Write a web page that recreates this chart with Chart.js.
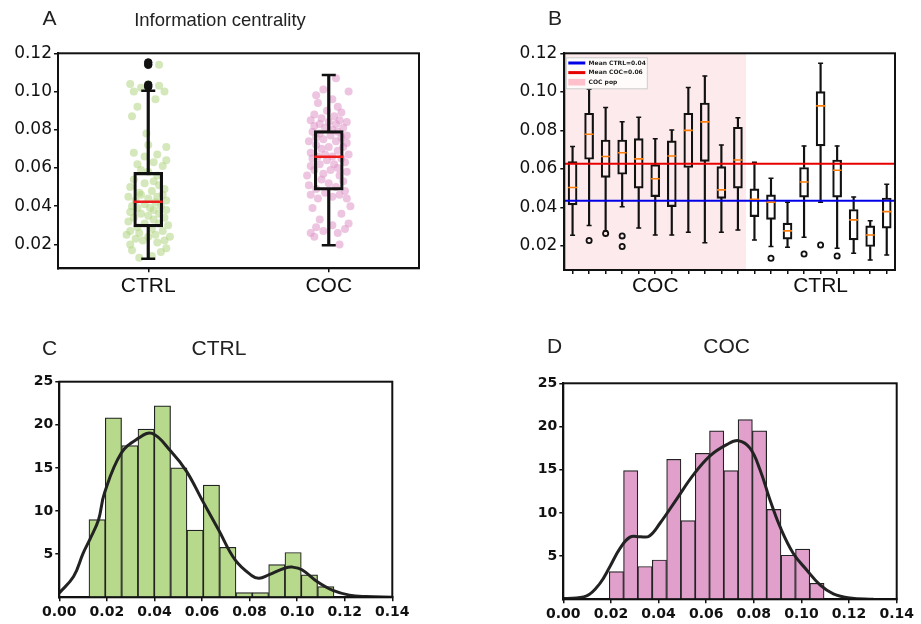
<!DOCTYPE html>
<html>
<head>
<meta charset="utf-8">
<script src="https://cdn.jsdelivr.net/npm/chart.js@4.4.0/dist/chart.umd.min.js"></script>
<style>
  html, body { margin: 0; padding: 0; background: #fff; }
  #wrap { position: relative; width: 921px; height: 624px; overflow: hidden; }
  canvas { position: absolute; }
</style>
</head>
<body>
<div id="wrap">
  <canvas id="chartA" width="460" height="300" style="left:0;top:0"></canvas>
  <canvas id="chartB" width="461" height="300" style="left:460px;top:0"></canvas>
  <canvas id="chartC" width="460" height="324" style="left:0;top:300px"></canvas>
  <canvas id="chartD" width="461" height="324" style="left:460px;top:300px"></canvas>
</div>
<script>
// ---- Panel A : information centrality per group ----
const groupsA = ['CTRL', 'COC'];
const aLow  = [0.0125, 0.0196];
const aQ1   = [0.0292, 0.0484];
const aMed  = [0.0423, 0.0659];
const aQ3   = [0.0577, 0.0795];
const aHigh = [0.1004, 0.1086];
const aOutliers = [[1, 0.1025], [1, 0.1035], [1, 0.1140], [1, 0.1152]];
const aTicks = [0.02, 0.04, 0.06, 0.08, 0.10, 0.12];

// jittered samples [offset, value]
const ctrlJitter = [
  [-0.05,0.013],[0.02,0.014],[0.07,0.016],[-0.09,0.017],[0.10,0.018],
  [-0.10,0.020],[0.05,0.021],[-0.03,0.022],[0.09,0.022],[-0.07,0.023],[0.12,0.024],[0.00,0.024],[-0.12,0.025],[0.04,0.025],[-0.05,0.026],
  [0.08,0.027],[-0.10,0.027],[0.02,0.028],[-0.06,0.029],[0.11,0.030],[-0.02,0.031],[0.06,0.031],[-0.11,0.032],[0.03,0.033],
  [-0.08,0.034],[0.09,0.034],[0.00,0.035],[-0.04,0.036],[0.06,0.036],[-0.10,0.037],[0.03,0.038],[0.10,0.038],[-0.06,0.039],[0.01,0.039],
  [-0.09,0.040],[0.07,0.040],[-0.02,0.041],[0.04,0.042],[-0.07,0.043],[0.10,0.043],[0.00,0.044],[-0.11,0.045],[0.05,0.045],[-0.04,0.046],[0.08,0.046],
  [-0.05,0.047],[0.02,0.048],[0.09,0.049],[-0.10,0.050],[0.06,0.051],[-0.02,0.052],[0.03,0.053],
  [-0.08,0.054],[0.05,0.056],[0.00,0.058],[-0.04,0.059],
  [0.08,0.061],[-0.06,0.062],[0.03,0.063],[0.10,0.064],[-0.02,0.066],[0.05,0.067],
  [-0.08,0.068],[0.10,0.071],[0.00,0.072],[-0.01,0.078],[-0.09,0.087],
  [-0.06,0.092],[0.04,0.096],
  [-0.08,0.100],[0.09,0.100],[-0.04,0.102],[0.06,0.103],[-0.10,0.104],[0.00,0.104],[0.06,0.114]
];
const cocJitter = [
  [0.06,0.020],[-0.08,0.024],
  [-0.10,0.026],[0.05,0.026],[-0.03,0.027],[0.09,0.028],[-0.07,0.029],[0.02,0.030],[0.11,0.031],
  [-0.05,0.033],[0.07,0.036],[-0.09,0.039],[0.12,0.040],
  [0.10,0.044],[-0.06,0.044],[0.02,0.045],[-0.10,0.046],[0.06,0.046],[-0.02,0.047],[0.09,0.048],[-0.07,0.049],
  [0.04,0.050],[-0.11,0.051],[0.00,0.052],[0.08,0.053],[-0.04,0.054],
  [-0.12,0.056],[0.06,0.056],[-0.03,0.057],[0.10,0.058],[0.01,0.059],[-0.08,0.059],[0.05,0.060],[-0.10,0.061],
  [0.03,0.062],[-0.05,0.062],[0.09,0.063],[-0.01,0.064],[0.07,0.065],[-0.09,0.065],[0.02,0.066],[-0.06,0.066],[0.11,0.067],[-0.02,0.067],
  [-0.10,0.068],[0.05,0.069],[-0.04,0.070],[0.08,0.071],[0.00,0.071],[-0.07,0.072],[0.10,0.073],
  [-0.11,0.074],[0.04,0.074],[-0.03,0.075],[0.07,0.076],[-0.07,0.076],[0.01,0.077],[0.10,0.077],[-0.05,0.078],[0.05,0.079],[-0.09,0.079],
  [0.02,0.080],[-0.02,0.081],[0.08,0.081],[-0.08,0.082],[0.04,0.083],[-0.05,0.083],[0.10,0.084],[0.00,0.084],[-0.10,0.085],[0.06,0.085],
  [-0.04,0.086],[0.03,0.087],[-0.08,0.088],[0.07,0.089],[-0.01,0.090],
  [0.05,0.092],[-0.06,0.094],[0.02,0.096],
  [-0.07,0.098],[0.11,0.100],[-0.03,0.101],[0.04,0.107]
];

// ---- Panel B : per-animal boxes (11 COC, 9 CTRL) ----
const bTickLabels = ['', '', '', '', '', 'COC', '', '', '', '', '', '', '', '', '', 'CTRL', '', '', '', ''];
const bLow  = [0.0255,0.0306,0.0278,0.0404,0.0293,0.0257,0.0257,0.0271,0.0217,0.0271,0.0283, 0.0231,0.0197,0.0193,0.0245,0.0427,0.0188,0.0162,0.0127,0.0153];
const bQ1   = [0.0413,0.0650,0.0556,0.0572,0.0500,0.0456,0.0404,0.0607,0.0639,0.0447,0.0500, 0.0352,0.0338,0.0235,0.0453,0.0719,0.0453,0.0231,0.0197,0.0292];
const bMed  = [0.0503,0.0780,0.0664,0.0684,0.0652,0.0549,0.0667,0.0800,0.0844,0.0491,0.0646, 0.0442,0.0427,0.0278,0.0532,0.0927,0.0593,0.0335,0.0257,0.0378];
const bQ3   = [0.0638,0.0889,0.0750,0.0750,0.0757,0.0622,0.0745,0.0889,0.0942,0.0612,0.0816, 0.0496,0.0465,0.0318,0.0607,0.1001,0.0646,0.0389,0.0304,0.0449];
const bHigh = [0.0716,0.1013,0.0918,0.0844,0.0868,0.0757,0.0802,0.1022,0.1082,0.0724,0.0866, 0.0634,0.0551,0.0427,0.0719,0.1148,0.0719,0.0454,0.0331,0.0520];
const bOutliers = [[2,0.0228],[3,0.0265],[4,0.0252],[4,0.0197],[13,0.0136],[15,0.0158],[16,0.0205],[17,0.0148]];
const meanCtrl = 0.0434;
const meanCoc = 0.0627;
const cocPop = [0.5, 11.5];
const bLegend = ['Mean CTRL=0.04', 'Mean COC=0.06', 'COC pop'];

// ---- Panel C : CTRL histogram + kde ----
const ctrlEdges = [0.0125,0.0193,0.0262,0.0331,0.0399,0.0468,0.0537,0.0605,0.0674,0.0743,0.0811,0.0880,0.0949,0.1017,0.1086,0.1155];
const ctrlHeights = [9.0,20.8,17.6,19.5,22.2,15.0,7.8,13.0,5.8,0.55,0.55,3.8,5.2,2.6,1.25];
const ctrlKdeX = [0,0.006,0.010,0.013,0.0165,0.019,0.026,0.033,0.039,0.047,0.0535,0.060,0.067,0.074,0.081,0.084,0.088,0.095,0.098,0.102,0.1085,0.115,0.122,0.129,0.14];
const ctrlKdeY = [0.5,2.4,5.1,6.8,9.0,12.1,16.7,18.4,19.0,16.9,14.6,11.3,7.8,4.3,2.5,2.2,2.6,3.4,3.5,3.2,1.8,0.8,0.25,0.08,0.0];

// ---- Panel D : COC histogram + kde ----
const cocEdges = [0.0193,0.0253,0.0313,0.0373,0.0434,0.0494,0.0554,0.0614,0.0674,0.0734,0.0794,0.0854,0.0914,0.0975,0.1035,0.1095];
const cocHeights = [3.2,14.9,3.8,4.55,16.2,9.1,16.9,19.5,14.9,20.8,19.5,10.4,5.1,5.8,1.85];
const cocKdeX = [0,0.0098,0.0154,0.0196,0.0238,0.028,0.0322,0.036,0.0406,0.0476,0.0546,0.0616,0.0686,0.0735,0.0784,0.0826,0.0868,0.091,0.0966,0.1022,0.1078,0.1134,0.1204,0.1302];
const cocKdeY = [0.08,0.39,1.85,3.8,5.9,7.2,7.25,7.3,8.8,11.6,14.4,16.6,17.9,18.36,17.5,15.0,11.5,8.4,5.3,3.4,1.66,0.62,0.15,0.0];

const histXTicks = [0, 0.02, 0.04, 0.06, 0.08, 0.10, 0.12, 0.14];
const histYTicks = [5, 10, 15, 20, 25];

// ---------------------------------------------------------------
const INK = '#111';

function axis(opts) {
  return {
    type: 'linear', min: opts.min, max: opts.max, bounds: 'data', offset: false,
    afterBuildTicks: s => { s.ticks = opts.ticks.map(v => ({ value: v })); },
    afterFit: s => { if (opts.width != null) s.width = opts.width; if (opts.height != null) s.height = opts.height; },
    ticks: { font: opts.font, color: INK, padding: opts.pad, autoSkip: false, maxRotation: 0, minRotation: 0, callback: opts.fmt },
    grid: { drawOnChartArea: false, drawTicks: true, tickLength: 4, color: INK, lineWidth: 1.5, offset: false },
    border: { display: true, color: INK, width: 2 }
  };
}

function boxDatasets(pos, low, q1, med, q3, high, st) {
  const pt = arr => arr.map((v, i) => ({ x: pos[i], y: v }));
  return [
    { type: 'scatter', data: pt(med), pointStyle: 'line', pointRadius: st.medR, pointBorderWidth: st.medW,
      pointBorderColor: st.medColor, borderColor: st.medColor, order: 2 },
    { type: 'scatter', data: pt(low).concat(pt(high)), pointStyle: 'line', pointRadius: st.capR, pointBorderWidth: st.lw,
      pointBorderColor: INK, borderColor: INK, order: 3 },
    { type: 'bar', data: q1.map((v, i) => ({ x: pos[i], y: [v, q3[i]] })), backgroundColor: 'rgba(0,0,0,0)',
      borderColor: INK, borderWidth: st.lw, borderSkipped: false, barThickness: st.boxW, grouped: false, order: 4 },
    { type: 'bar', data: low.map((v, i) => ({ x: pos[i], y: [v, q1[i]] })), backgroundColor: INK,
      borderWidth: 0, barThickness: st.lw, grouped: false, order: 5 },
    { type: 'bar', data: q3.map((v, i) => ({ x: pos[i], y: [v, high[i]] })), backgroundColor: INK,
      borderWidth: 0, barThickness: st.lw, grouped: false, order: 5 }
  ];
}

const framePlugin = {
  id: 'frame',
  afterDatasetsDraw(chart) {
    const { ctx, chartArea: a } = chart;
    ctx.save();
    ctx.strokeStyle = INK; ctx.lineWidth = 2;
    ctx.strokeRect(a.left, a.top, a.right - a.left, a.bottom - a.top);
    ctx.restore();
  }
};

const textPlugin = {
  id: 'panelText',
  afterDraw(chart, args, opts) {
    const ctx = chart.ctx;
    (opts.items || []).forEach(it => {
      ctx.save();
      ctx.font = it.font; ctx.fillStyle = '#222';
      ctx.textAlign = 'center'; ctx.textBaseline = 'middle';
      ctx.fillText(it.text, it.x, it.y);
      ctx.restore();
    });
  }
};

const legendB = {
  id: 'legendB',
  afterDraw(chart) {
    const { ctx, chartArea: a } = chart;
    const x = a.left + 2, y = a.top + 4.5;
    ctx.save();
    ctx.fillStyle = 'rgba(255,255,255,0.8)';
    ctx.strokeStyle = '#cccccc'; ctx.lineWidth = 1;
    ctx.fillRect(x, y, 81, 31); ctx.strokeRect(x, y, 81, 31);
    const swatch = ['#0000e6', '#e60000', 'rgb(255,192,203)'];
    ctx.font = 'bold 6px "DejaVu Sans"'; ctx.textBaseline = 'middle';
    bLegend.forEach((t, i) => {
      const cy = y + 5.2 + i * 9.6;
      if (i < 2) {
        ctx.strokeStyle = swatch[i]; ctx.lineWidth = 3;
        ctx.beginPath(); ctx.moveTo(x + 2, cy); ctx.lineTo(x + 19, cy); ctx.stroke();
      } else {
        ctx.fillStyle = swatch[i]; ctx.fillRect(x + 2, cy - 3.3, 17, 6.6);
      }
      ctx.fillStyle = '#222';
      ctx.fillText(t, x + 22.3, cy + 0.3);
    });
    ctx.restore();
  }
};

const base = {
  responsive: false, animation: false, devicePixelRatio: 1, events: [],
  plugins: { legend: { display: false }, tooltip: { enabled: false } }
};

const fDejaVu17 = { family: 'DejaVu Sans', size: 17 };
const fGroup = { family: 'Liberation Sans', size: 21 };
const fHist = { family: 'DejaVu Sans', size: 14, weight: 'bold' };

// ---- A ----
new Chart(document.getElementById('chartA'), {
  type: 'bar',
  data: {
    datasets: [
      { type: 'scatter', data: aOutliers.map(p => ({ x: p[0], y: p[1] })), pointRadius: 3.8,
        pointBackgroundColor: INK, pointBorderColor: INK, order: 1 },
      ...boxDatasets([1, 2], aLow, aQ1, aMed, aQ3, aHigh, { lw: 2.5, boxW: 29, capR: 7, medR: 14.5, medW: 2.5, medColor: '#ee1c1c' }),
      { type: 'scatter', data: ctrlJitter.map(p => ({ x: 1 + p[0], y: p[1] })), pointRadius: 4, borderWidth: 0,
        pointBorderWidth: 0, pointBackgroundColor: 'rgba(178,214,132,0.55)', order: 10 },
      { type: 'scatter', data: cocJitter.map(p => ({ x: 2 + p[0], y: p[1] })), pointRadius: 4, borderWidth: 0,
        pointBorderWidth: 0, pointBackgroundColor: 'rgba(222,150,200,0.55)', order: 10 }
    ]
  },
  options: {
    ...base,
    layout: { padding: { top: 53.3, right: 41, left: 0, bottom: 0 } },
    scales: {
      x: axis({ min: 0.5, max: 2.5, ticks: [1, 2], height: 31.7, font: fGroup, pad: 1, fmt: (v, i) => groupsA[i] }),
      y: axis({ min: 0.0075, max: 0.12, ticks: aTicks, width: 58, font: fDejaVu17, pad: 2, fmt: v => v.toFixed(2) })
    },
    plugins: { ...base.plugins, panelText: { items: [
      { text: 'A', x: 49.5, y: 19.5, font: '21px "Liberation Sans"' },
      { text: 'Information centrality', x: 220, y: 21, font: '18.5px "Liberation Sans"' }
    ] } }
  },
  plugins: [framePlugin, textPlugin]
});

// ---- B ----
const bPos = bMed.map((v, i) => i + 1);
new Chart(document.getElementById('chartB'), {
  type: 'bar',
  data: {
    datasets: [
      { type: 'scatter', data: bOutliers.map(p => ({ x: p[0], y: p[1] })), pointRadius: 2.6, pointBorderWidth: 1.8,
        pointBorderColor: INK, pointBackgroundColor: 'rgba(255,255,255,0)', order: 1 },
      ...boxDatasets(bPos, bLow, bQ1, bMed, bQ3, bHigh, { lw: 1.5, boxW: 9, capR: 2.5, medR: 4.5, medW: 1.6, medColor: '#ff7f0e' }),
      { type: 'line', data: [{ x: 0.5, y: meanCoc }, { x: 20.5, y: meanCoc }], borderColor: '#e60000', borderWidth: 2,
        pointRadius: 0, order: 2.5 },
      { type: 'line', data: [{ x: 0.5, y: meanCtrl }, { x: 20.5, y: meanCtrl }], borderColor: '#0000e6', borderWidth: 2,
        pointRadius: 0, order: 2.5 },
      { type: 'line', data: [{ x: cocPop[0], y: 0.12 }, { x: cocPop[1], y: 0.12 }], fill: 'start',
        backgroundColor: 'rgba(250,200,205,0.38)', borderColor: 'rgba(0,0,0,0)', borderWidth: 0, pointRadius: 0, order: 20 }
    ]
  },
  options: {
    ...base,
    layout: { padding: { top: 53.3, right: 26, left: 0, bottom: 0 } },
    scales: {
      x: axis({ min: 0.5, max: 20.5, ticks: bPos, height: 30, font: fGroup, pad: 0, fmt: (v, i) => bTickLabels[i] }),
      y: axis({ min: 0.0075, max: 0.12, ticks: aTicks, width: 104.3, font: fDejaVu17, pad: 3, fmt: v => v.toFixed(2) })
    },
    plugins: { ...base.plugins, panelText: { items: [
      { text: 'B', x: 95, y: 19.5, font: '21px "Liberation Sans"' }
    ] } }
  },
  plugins: [framePlugin, textPlugin, legendB]
});

// ---- C / D histograms ----
function histChart(id, edges, heights, kx, ky, fill, pad, yW, xH, letter, title) {
  new Chart(document.getElementById(id), {
    type: 'bar',
    data: {
      datasets: [
        { type: 'line', data: kx.map((x, i) => ({ x, y: ky[i] })), borderColor: '#222', borderWidth: 3,
          pointRadius: 0, tension: 0.4, order: 1 },
        { type: 'bar', data: heights.map((h, i) => ({ x: (edges[i] + edges[i + 1]) / 2, y: h })),
          backgroundColor: fill, borderColor: '#222', borderWidth: 1.2, borderSkipped: false,
          categoryPercentage: 1, barPercentage: 1, order: 2 }
      ]
    },
    options: {
      ...base,
      layout: { padding: pad },
      scales: {
        x: axis({ min: 0, max: 0.14, ticks: histXTicks, height: xH, font: fHist, pad: 3, fmt: v => v.toFixed(2) }),
        y: axis({ min: 0, max: 25, ticks: histYTicks, width: yW, font: fHist, pad: 2, fmt: v => String(v) })
      },
      plugins: { ...base.plugins, panelText: { items: [letter, title] } }
    },
    plugins: [framePlugin, textPlugin]
  });
}

histChart('chartC', ctrlEdges, ctrlHeights, ctrlKdeX, ctrlKdeY, '#b7d98b',
  { top: 81.7, right: 67.7, left: 0, bottom: 0 }, 59.3, 26.7,
  { text: 'C', x: 49.5, y: 49, font: '21px "Liberation Sans"' },
  { text: 'CTRL', x: 219, y: 49, font: '21px "Liberation Sans"' });

histChart('chartD', cocEdges, cocHeights, cocKdeX, cocKdeY, '#e0a0cb',
  { top: 83.3, right: 24.3, left: 0, bottom: 0 }, 103.3, 24.7,
  { text: 'D', x: 94.5, y: 47.5, font: '21px "Liberation Sans"' },
  { text: 'COC', x: 266.7, y: 47.5, font: '21px "Liberation Sans"' });
</script>
</body>
</html>
